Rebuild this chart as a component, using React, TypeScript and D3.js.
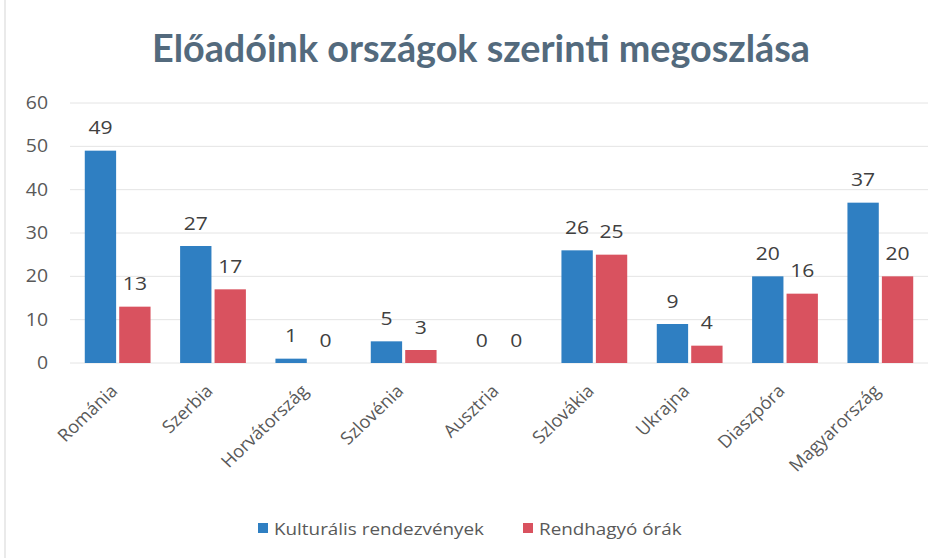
import React from "react";
import * as d3 from "d3";

const categories = ["Románia", "Szerbia", "Horvátország", "Szlovénia", "Ausztria", "Szlovákia", "Ukrajna", "Diaszpóra", "Magyarország"];
const seriesNames = ["Kulturális rendezvények", "Rendhagyó órák"];
const kulturalis = [49, 27, 1, 5, 0, 26, 9, 20, 37];
const rendhagyo = [13, 17, 0, 3, 0, 25, 4, 16, 20];
const yTicks = [0, 10, 20, 30, 40, 50, 60];
const colors = ["#2f7fc2", "#d9525f"];
const title = "Előadóink országok szerinti megoszlása";

const W = 945;
const H = 558;
const left = 70;
const right = 928;
const top = 103;
const bottom = 363;
const sx = 1.11;

export default function App() {
  const series = [kulturalis, rendhagyo];
  const x0 = d3.scaleBand<string>().domain(categories).range([left, right]).paddingInner(0.31).paddingOuter(0.155);
  const x1 = d3.scaleBand<number>().domain([0, 1]).range([0, x0.bandwidth()]).paddingInner(0.09);
  const y = d3.scaleLinear().domain([0, 60]).range([bottom, top]);
  const font = "'Open Sans', 'Noto Sans', 'DejaVu Sans', sans-serif";

  return (
    <svg width={W} height={H} style={{ position: "absolute", left: 0, top: 0, background: "#fff", fontFamily: font }}>
      <rect x={0} y={0} width={W} height={H} fill="#ffffff" />
      <line x1={5} x2={5} y1={0} y2={H} stroke="#e3e3e3" strokeWidth={1.5} />
      <text
        x={481}
        y={62}
        textAnchor="middle"
        style={{ fontFamily: "Lato, sans-serif" }}
        fontWeight={700}
        fontSize={38}
        fill="#536a7d"
        textLength={658}
        lengthAdjust="spacingAndGlyphs"
      >
        {title}
      </text>
      {yTicks.map((t) => (
        <g key={t}>
          <line x1={left} x2={right} y1={y(t)} y2={y(t)} stroke="#e4e4e4" strokeWidth={1} />
          <text
            transform={`translate(48,${y(t)}) scale(${sx},1)`}
            dy="0.35em"
            textAnchor="end"
            fontSize={17.5}
            fill="#595959"
          >
            {t}
          </text>
        </g>
      ))}
      {categories.map((c, i) => (
        <g key={c} transform={`translate(${x0(c)},0)`}>
          {series.map((s, j) => {
            const bx = x1(j)!;
            const bw = x1.bandwidth();
            const v = s[i];
            return (
              <g key={j}>
                <rect x={bx} y={y(v)} width={bw} height={bottom - y(v)} fill={colors[j]} />
                <text
                  transform={`translate(${bx + bw / 2},${y(v) - 16.5}) scale(${sx},1)`}
                  textAnchor="middle"
                  fontSize={19}
                  fill="#404040"
                >
                  {v}
                </text>
              </g>
            );
          })}
          <text
            transform={`translate(${x0.bandwidth() / 2 + 1},${bottom + 29}) scale(1.05,1) rotate(-45)`}
            textAnchor="end"
            fontSize={17.5}
            fill="#595959"
          >
            {c}
          </text>
        </g>
      ))}
      {seriesNames.map((n, j) => {
        const lx = j === 0 ? 258 : 523;
        return (
          <g key={n}>
            <rect x={lx} y={523} width={10} height={10} fill={colors[j]} />
            <text transform={`translate(${lx + 16},535) scale(${sx},1)`} fontSize={17} fill="#595959">
              {n}
            </text>
          </g>
        );
      })}
    </svg>
  );
}
